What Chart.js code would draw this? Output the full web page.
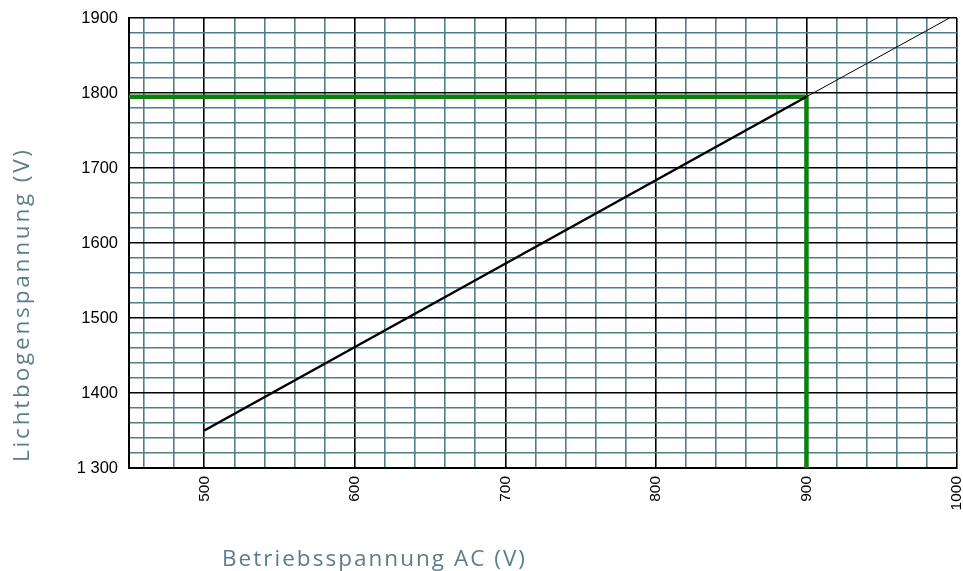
<!DOCTYPE html>
<html>
<head>
<meta charset="utf-8">
<script src="https://cdn.jsdelivr.net/npm/chart.js@4.4.0/dist/chart.umd.min.js"></script>
<style>
  html, body { margin: 0; padding: 0; background: #fff; }
  #wrap { width: 963px; height: 571px; position: relative; }
</style>
</head>
<body>
<div id="wrap"><canvas id="arcChart"></canvas></div>
<script>
// values
var curveX = [500, 900];
var curveY = [1350, 1795];
var extX = [900, 995];
var extY = [1795, 1900];
var markX = [450, 900, 900];
var markY = [1795, 1795, 1300];
var yLabels = { 1300: '1 300', 1400: '1400', 1500: '1500', 1600: '1600', 1700: '1700', 1800: '1800', 1900: '1900' };
var xTitle = 'Betriebsspannung AC (V)';
var yTitle = 'Lichtbogenspannung (V)';

function pts(xs, ys) {
  return xs.map(function (x, i) { return { x: x, y: ys[i] }; });
}

var teal = '#4f7f87';
var titleColor = '#5a7e8c';

function fitText(ctx, text, target) {
  ctx.letterSpacing = '0px';
  var w = ctx.measureText(text).width;
  var ls = (target - w) / (text.length - 1);
  ctx.letterSpacing = ls + 'px';
}

var axisTitles = {
  id: 'axisTitles',
  afterDraw: function (chart) {
    var ctx = chart.ctx;
    ctx.save();
    ctx.fillStyle = titleColor;
    ctx.font = '22.5px "Open Sans", Lato, sans-serif';
    ctx.textBaseline = 'alphabetic';
    ctx.textAlign = 'left';
    fitText(ctx, xTitle, 303);
    ctx.fillText(xTitle, 222, 566);
    ctx.translate(29, 462);
    ctx.rotate(-Math.PI / 2);
    fitText(ctx, yTitle, 312);
    ctx.fillText(yTitle, 0, 0);
    ctx.restore();
  }
};

function gridColor(c) {
  return c.tick && c.tick.value % 100 === 0 ? '#000' : teal;
}

var ctx = document.getElementById('arcChart');
var myChart = new Chart(ctx, {
  type: 'line',
  data: {
    datasets: [
      {
        data: pts(markX, markY),
        borderColor: '#0b800b',
        borderWidth: 4.5,
        pointRadius: 0,
        order: 1
      },
      {
        data: pts(curveX, curveY),
        borderColor: '#000',
        borderWidth: 2.5,
        pointRadius: 0,
        order: 0
      },
      {
        data: pts(extX, extY),
        borderColor: '#000',
        borderWidth: 1,
        pointRadius: 0,
        order: 0
      }
    ]
  },
  options: {
    responsive: true,
    maintainAspectRatio: false,
    animation: false,
    layout: { padding: { left: 0, right: 6, top: 18, bottom: 0 } },
    plugins: { legend: { display: false }, tooltip: { enabled: false } },
    scales: {
      x: {
        type: 'linear',
        min: 450,
        max: 1000,
        afterFit: function (s) {
          s.height = 103;
          s.paddingLeft = 0;
          s.paddingRight = 0;
        },
        afterBuildTicks: function (s) {
          var t = [];
          for (var v = 460; v <= 1000; v += 20) t.push({ value: v });
          s.ticks = t;
        },
        grid: { color: gridColor, lineWidth: 1.6, drawTicks: false },
        border: { color: '#000', width: 2 },
        ticks: {
          autoSkip: false,
          minRotation: 90,
          maxRotation: 90,
          padding: 8,
          color: '#000',
          font: { family: '"Liberation Sans", Arial, sans-serif', size: 15.5 },
          callback: function (v) { return v % 100 === 0 ? String(v) : ''; }
        }
      },
      y: {
        type: 'linear',
        min: 1300,
        max: 1900,
        afterFit: function (s) {
          s.width = 129;
          s.paddingTop = 0;
          s.paddingBottom = 0;
        },
        afterBuildTicks: function (s) {
          var t = [];
          for (var v = 1300; v <= 1900; v += 20) t.push({ value: v });
          s.ticks = t;
        },
        grid: { color: gridColor, lineWidth: 1.6, drawTicks: false },
        border: { color: '#000', width: 2 },
        ticks: {
          autoSkip: false,
          padding: 11,
          color: '#000',
          font: { family: '"Liberation Sans", Arial, sans-serif', size: 16.5 },
          callback: function (v) { return yLabels[v] || ''; }
        }
      }
    }
  },
  plugins: [axisTitles]
});
</script>
</body>
</html>
